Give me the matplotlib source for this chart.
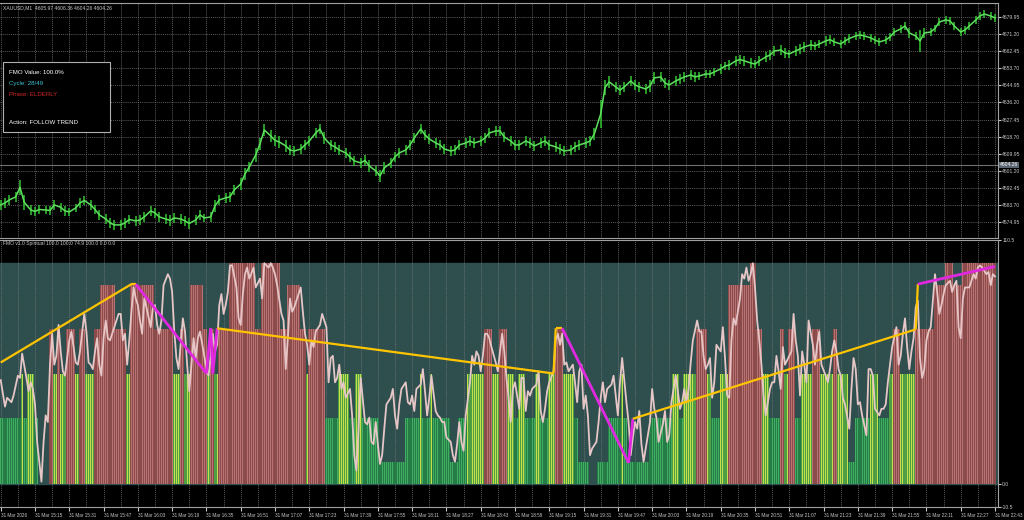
import matplotlib.pyplot as plt
import matplotlib.patches as patches
import numpy as np

# ---- price pane: XAUUSD M1, high/low read every 7/3 bars ----
price_bar = [7 * m + o for m in range(67) for o in (0, 2, 4)][:200]
price_hi = [4586.3, 4587.3, 4588.9, 4590.4, 4596.5, 4588.9, 4583.7, 4582.7, 4583.7, 4583.2,
            4583.2, 4586.3, 4584.8, 4583.2, 4582.2, 4584.2, 4587.3, 4588.3, 4586.3, 4583.7,
            4581.2, 4579.1, 4577.1, 4576.1, 4576.1, 4577.1, 4578.6, 4578.1, 4578.6, 4580.2,
            4583.2, 4582.2, 4580.2, 4579.1, 4578.6, 4579.6, 4579.1, 4578.1, 4577.1, 4578.6,
            4581.2, 4579.1, 4580.2, 4586.3, 4588.9, 4589.9, 4590.4, 4594.0, 4597.5, 4602.7,
            4605.7, 4612.9, 4618.0, 4625.2, 4622.1, 4619.6, 4619.0, 4617.0, 4614.4, 4613.9,
            4614.9, 4617.0, 4619.0, 4623.1, 4625.2, 4621.1, 4617.0, 4616.0, 4614.4, 4612.9,
            4610.9, 4608.8, 4607.8, 4609.3, 4606.8, 4603.7, 4601.6, 4605.7, 4607.8, 4610.9,
            4612.9, 4614.4, 4617.0, 4620.6, 4625.2, 4622.1, 4620.1, 4618.0, 4617.0, 4614.9,
            4613.9, 4614.4, 4617.0, 4618.0, 4619.0, 4618.0, 4619.0, 4620.6, 4623.1, 4624.2,
            4624.2, 4621.1, 4619.0, 4617.0, 4617.0, 4619.0, 4618.0, 4616.5, 4618.0, 4619.0,
            4617.0, 4616.0, 4614.9, 4613.9, 4614.4, 4616.0, 4617.0, 4618.0, 4619.0, 4623.1,
            4637.5, 4647.7, 4649.8, 4646.7, 4645.1, 4646.7, 4649.8, 4647.7, 4646.7, 4645.7,
            4647.7, 4651.8, 4651.8, 4648.7, 4647.7, 4649.8, 4650.8, 4651.8, 4652.8, 4651.8,
            4651.8, 4652.8, 4652.8, 4653.8, 4655.9, 4656.9, 4657.9, 4660.0, 4660.5, 4660.0,
            4659.0, 4657.9, 4660.0, 4662.0, 4663.1, 4665.1, 4665.6, 4664.1, 4663.1, 4665.1,
            4666.1, 4667.2, 4668.2, 4667.2, 4668.2, 4670.2, 4670.7, 4669.2, 4668.2, 4669.7,
            4671.3, 4672.3, 4672.8, 4672.3, 4671.3, 4670.2, 4669.2, 4670.2, 4671.8, 4674.3,
            4675.9, 4677.4, 4674.3, 4672.3, 4673.3, 4674.3, 4674.3, 4675.9, 4679.4, 4680.5,
            4680.0, 4677.4, 4674.3, 4675.3, 4677.4, 4680.5, 4682.5, 4683.5, 4682.5, 4681.5]
price_lo = [4581.2, 4582.2, 4583.7, 4585.3, 4588.9, 4581.2, 4578.6, 4578.1, 4579.1, 4579.1,
            4578.6, 4581.2, 4580.2, 4578.1, 4578.1, 4580.2, 4582.2, 4583.7, 4581.2, 4579.1,
            4576.1, 4574.0, 4572.0, 4570.9, 4570.9, 4572.0, 4574.0, 4573.0, 4573.5, 4575.0,
            4578.1, 4577.1, 4575.0, 4574.0, 4573.0, 4574.5, 4574.0, 4573.0, 4571.4, 4573.5,
            4576.1, 4575.0, 4575.0, 4580.2, 4583.7, 4584.8, 4585.3, 4588.9, 4591.4, 4596.5,
            4600.6, 4605.7, 4611.9, 4619.0, 4616.0, 4613.9, 4612.9, 4610.9, 4609.3, 4608.8,
            4609.8, 4611.9, 4613.9, 4618.0, 4620.1, 4614.9, 4611.9, 4610.9, 4609.3, 4607.8,
            4605.7, 4603.7, 4602.7, 4603.7, 4600.6, 4598.6, 4595.5, 4599.6, 4602.7, 4605.7,
            4607.8, 4609.3, 4611.9, 4615.5, 4620.1, 4617.0, 4614.9, 4612.9, 4611.9, 4609.8,
            4608.8, 4609.3, 4611.9, 4612.9, 4613.9, 4612.9, 4613.9, 4615.5, 4618.0, 4619.0,
            4619.0, 4616.0, 4613.9, 4611.9, 4611.9, 4613.9, 4612.9, 4611.4, 4612.9, 4613.9,
            4611.9, 4610.9, 4609.8, 4608.8, 4609.3, 4610.9, 4611.9, 4612.9, 4613.9, 4617.0,
            4623.1, 4640.0, 4643.6, 4641.6, 4640.0, 4641.6, 4644.6, 4642.6, 4641.6, 4640.5,
            4641.6, 4645.7, 4646.7, 4643.6, 4642.6, 4644.6, 4645.7, 4646.7, 4647.7, 4646.7,
            4647.7, 4648.7, 4648.7, 4649.8, 4650.8, 4652.8, 4652.8, 4654.9, 4655.9, 4654.9,
            4653.8, 4653.8, 4654.9, 4656.9, 4657.9, 4660.0, 4660.5, 4659.0, 4659.0, 4660.0,
            4661.0, 4662.0, 4663.1, 4663.1, 4664.1, 4665.1, 4666.1, 4665.1, 4664.1, 4665.6,
            4666.6, 4668.2, 4668.7, 4668.2, 4667.2, 4666.1, 4665.1, 4666.1, 4667.7, 4670.2,
            4671.8, 4673.3, 4669.2, 4668.2, 4662.0, 4669.2, 4670.2, 4672.3, 4675.3, 4676.4,
            4675.9, 4673.3, 4670.2, 4671.3, 4673.3, 4676.4, 4678.4, 4679.4, 4678.4, 4677.4]
price_ticks = [4574.95, 4583.70, 4592.45, 4601.20, 4609.95, 4618.70, 4627.45, 4636.20,
               4644.95, 4653.70, 4662.45, 4671.20, 4679.95]
last_price = 4604.26

# ---- FMO histogram, run-length: level per run, bars per run ----
hist_level = [30, 50, 30, 50, 30, 0, 70, 50, 70, 50, 70, 50, 70, 50, 70, 90, 70, 50, 90, 70,
              50, 70, 50, 90, 70, 50, 70, 50, 70, 100,
              100, 70, 100, 70, 90, 70, 50, 70, 30, 50, 30, 50, 30, 10, 30, 50, 30, 50, 30, 10,
              30, 50, 70, 50,
              70, 50, 30, 50, 30, 50, 30, 50, 70, 50, 30, 10, 0, 10, 30, 50, 30, 10, 30, 50,
              30, 50, 70, 50, 30, 50, 90,
              100, 70, 50, 30, 70, 50, 70, 30, 50, 70, 50, 70, 50, 10, 30, 50, 30, 50, 70, 50,
              70, 90, 100, 90, 100]
hist_run = [10, 1, 2, 3, 2, 5, 2, 2, 1, 3, 4, 2, 3, 4, 3, 7, 5, 2, 11, 9,
            3, 2, 3, 6, 2, 1, 2, 2, 5, 9,
            3, 3, 9, 3, 6, 3, 1, 8, 6, 5, 3, 3, 8, 12, 7, 1, 4, 1, 8, 4,
            4, 8, 4, 3,
            4, 3, 2, 3, 5, 2, 4, 3, 4, 5, 2, 5, 4, 5, 6, 1, 2, 10, 11, 3,
            2, 6, 5, 2, 4, 4, 10,
            3, 3, 3, 5, 2, 2, 3, 3, 5, 4, 6, 2, 5, 3, 7, 4, 5, 2, 3, 7,
            9, 5, 4, 4, 16]

# ---- FMO oscillator line (bar, value) ----
fmo_bar = [0, 2, 3, 5, 6, 8, 9, 10, 12, 13, 14, 15, 16, 17, 18, 19, 20, 21, 22, 23, 24, 25, 26,
           27, 28, 29, 30, 32, 33, 34, 35, 36, 37, 39, 40, 41, 42, 43, 44, 45, 46, 47, 48, 49,
           50, 51, 52, 54, 55, 56, 57, 58, 59, 60, 61, 62, 63, 64, 65, 66, 67, 68, 70, 71, 72,
           73, 74, 75, 76, 78, 79, 80, 81, 82, 83, 85, 86, 87, 88, 89, 90, 91, 92, 93, 95, 96,
           97, 98, 99, 100, 101, 102, 103, 104, 105, 106, 107, 108, 110, 111, 112, 113, 114, 115,
           116, 118, 119, 121, 122, 123, 124, 125, 126, 127, 128, 129, 131, 132, 133, 134, 135,
           136, 137, 138, 140, 141, 142, 143, 144, 145, 146, 147, 149, 150, 152, 153, 154, 155,
           156, 157, 158, 159, 160, 161, 163, 164, 165, 166, 167, 168, 170, 171, 172, 173, 174,
           175, 176, 177, 178, 179, 180, 182, 183, 184, 185, 186, 187, 189, 190, 191, 192, 193,
           194, 196, 197, 198, 199, 200, 201, 203, 204, 205, 206, 207, 208, 210, 211, 212, 213,
           214, 215, 216, 217, 219, 220, 221, 222, 223, 224, 225, 226, 227, 228, 229, 231, 232,
           233, 234, 235, 236, 237, 238, 239, 240, 242, 243, 244, 245, 246, 247, 248, 250, 251,
           252, 253, 254, 255, 256, 258, 259, 260, 261, 262, 263, 264, 265, 267, 268, 269, 270,
           271, 272, 273, 274, 275, 276, 278, 279, 280, 281, 282, 283, 285, 286, 287, 288, 289,
           290, 292, 293, 294, 295, 296, 297, 298, 299, 300, 302, 303, 304, 305, 306, 307, 309,
           310, 311, 312, 313, 315, 316, 317, 318, 319, 320, 321, 322, 323, 325, 326, 327, 328,
           329, 330, 331, 332, 333, 334, 336, 337, 338, 339, 340, 341, 342, 343, 345, 346, 347,
           348, 349, 350, 351, 352, 353, 354, 355, 356, 357, 359, 360, 361, 362, 363, 364, 365,
           366, 368, 369, 370, 371, 372, 373, 374, 375, 376, 377, 379, 380, 381, 382, 383, 385,
           386, 387, 388, 389, 390, 391, 392, 393, 394, 396, 397, 398, 399, 400, 401, 402, 404,
           405, 406, 407, 408, 410, 411, 412, 413, 414, 415, 416, 418, 419, 420, 421, 422, 423,
           424, 425, 426, 427, 428, 429, 430, 431, 432, 433, 434, 436, 437, 438, 439, 440, 441,
           443, 444, 445, 446, 447, 448, 449, 450, 452, 453, 454, 455, 456, 457, 458, 460, 461,
           462, 463, 464]
fmo_val = [47, 35, 39, 37, 40, 49, 48, 59, 48, 42, 46, 43, 36, 19, 10, 1, 19, 31, 28, 54, 68, 54,
           58, 72, 60, 51, 49, 65, 69, 62, 55, 54, 60, 77, 69, 55, 54, 52, 60, 66, 54, 49, 66, 74,
           66, 65, 68, 74, 77, 77, 65, 68, 54, 65, 78, 89, 84, 81, 74, 68, 84, 80, 71, 80, 81, 72,
           68, 74, 90, 95, 93, 87, 69, 57, 52, 75, 69, 54, 42, 54, 66, 57, 66, 69, 58, 52, 49, 58,
           68, 60, 63, 81, 86, 77, 81, 87, 99, 99, 89, 75, 72, 86, 95, 98,
           93, 98, 89, 93, 84, 100, 99, 98, 100, 98, 95, 90, 77, 74, 52, 66, 84, 78, 80, 83, 89,
           78, 68, 63, 54, 65, 62, 69, 72, 77, 71, 46, 57, 58, 46, 48, 54, 43, 46, 39, 43, 31, 13,
           6, 25, 48, 28, 27, 30, 19, 18, 28, 18, 9, 13, 25, 36, 39, 43, 31, 25, 36, 43, 46, 37,
           36, 40, 33, 43, 45, 52, 42, 31, 39, 49, 33, 31, 30, 28, 28, 21, 19, 13, 10, 18, 28, 19,
           15, 31, 46, 58, 54, 60, 58, 51, 58, 68, 68, 66, 62, 55, 51,
           60, 68, 60, 48, 39, 28, 43, 46, 34, 48, 48, 33, 42, 40, 43, 45, 51, 33, 28, 34, 42, 46,
           51, 65, 68, 63, 68, 54, 55, 51, 54, 46, 37, 51, 54, 34, 40, 31, 13, 16, 19, 28, 39, 46,
           37, 43, 45, 49, 40, 31, 46, 57, 37, 28, 13, 21, 28, 25, 33, 18, 10, 22, 28, 43, 34, 30,
           19, 27, 33, 19, 22, 37, 49, 42, 34, 37, 43, 37, 43, 55, 65, 74, 69, 69, 58, 52, 54, 57,
           39, 46, 63, 60, 71, 57, 40, 39, 65, 75, 72, 84, 95, 93, 98, 92,
           95, 100, 89, 74, 65, 54, 40, 31, 43, 46, 46, 58, 51, 43, 62, 54, 58, 60, 77, 65, 58, 40,
           60, 54, 46, 74, 63, 54, 63, 69, 54, 49, 46, 52, 60, 65, 60, 52, 49, 39, 36, 25, 43, 57,
           52, 36, 37, 31, 22, 52, 52, 49, 34, 31, 34, 34, 36, 46, 54, 62, 71, 54, 58, 68, 75, 62,
           52, 60, 66, 80, 83, 57, 48, 52, 65, 69, 71, 95, 87, 77, 81, 86, 90, 92, 87, 90, 92, 71,
           66, 84, 89, 89, 92, 95, 93, 98, 99, 98, 95, 96, 90, 95, 94]

# ---- trend overlay vertices, kind of each segment ----
trend_bar = [0, 61, 63, 96, 98, 99, 101, 258, 259, 262, 293, 295, 427, 428, 464]
trend_val = [55, 90.5, 90.5, 50, 70.5, 50, 70.5, 50, 70.5, 70.5, 9.5, 29.5, 70, 90.5, 98.5]
trend_kind = ['Y', 'Y', 'M', 'M', 'M', 'M', 'Y', 'Y', 'Y', 'M', 'M', 'Y', 'Y', 'M']

time_labels = ['31 Mar 2026', '31 Mar 15:15', '31 Mar 15:31', '31 Mar 15:47', '31 Mar 16:03',
               '31 Mar 16:19', '31 Mar 16:35', '31 Mar 16:51', '31 Mar 17:07', '31 Mar 17:23',
               '31 Mar 17:39', '31 Mar 17:55', '31 Mar 18:11', '31 Mar 18:27', '31 Mar 18:43',
               '31 Mar 18:59', '31 Mar 19:15', '31 Mar 19:31', '31 Mar 19:47', '31 Mar 20:03',
               '31 Mar 20:19', '31 Mar 20:35', '31 Mar 20:51', '31 Mar 21:07', '31 Mar 21:23',
               '31 Mar 21:39', '31 Mar 21:55', '31 Mar 22:11', '31 Mar 22:27', '31 Mar 22:43']

plt.rcParams['font.family'] = ['Liberation Sans', 'DejaVu Sans']
GRID = '#7a7a7a'
FG = '#c8c8c8'
XLIM = (-0.33, 465.4)

fig = plt.figure(figsize=(10.24, 5.2), dpi=100, facecolor='black')
ax1 = fig.add_axes([0, 1 - 238 / 520, 998 / 1024, 235 / 520], facecolor='black')
ax2 = fig.add_axes([0, 1 - 507 / 520, 998 / 1024, 267 / 520], facecolor='black')

# price pane: thin bars plus a bright path through their middles
mid = (np.array(price_hi) + np.array(price_lo)) / 2
ax1.vlines(price_bar, price_lo, price_hi, color='#2fb52f', lw=1.2, zorder=3)
ax1.plot(price_bar, mid, color='#5ee05e', lw=1.1, zorder=4)
ax1.axhline(last_price, color='#707070', lw=0.8)
ax1.set_xlim(*XLIM)
ax1.set_ylim(4566.8, 4687.1)
ax1.set_yticks(price_ticks, [f'{p:.2f}' for p in price_ticks])
ax1.yaxis.tick_right()
ax1.set_xticks(range(0, 465, 16))
ax1.set_xticks(range(8, 465, 16), minor=True)
ax1.tick_params(axis='x', which='both', length=0, labelbottom=False)
ax1.tick_params(axis='y', labelsize=3.6, colors=FG, length=2, pad=1)
ax1.grid(True, which='both', color=GRID, ls=(0, (1.5, 1.5)), lw=0.5)
ax1.text(1.002, last_price, f'{last_price:.2f}', transform=ax1.get_yaxis_transform(),
         fontsize=3.6, color='white', va='center', ha='left',
         bbox=dict(boxstyle='square,pad=0.15', fc='#5a6470', ec='none'))

# indicator pane: teal base, striped histogram, oscillator, trend overlay
ax2.axhspan(0, 100, color='#2f4f4f', zorder=0)
levels = np.repeat(hist_level, hist_run)
bars = np.arange(len(levels))
dark = np.where(levels >= 70, '#8c4b4b', np.where(levels >= 50, '#4f9e44', '#267c46'))
light = np.where(levels >= 70, '#b87272', np.where(levels >= 50, '#c4e04c', '#40ad62'))
ax2.bar(bars, levels, width=1.0, color=dark, zorder=2)
ax2.bar(bars, levels, width=0.45, color=light, zorder=2)
ax2.plot(fmo_bar, fmo_val, color='#e6c6c6', lw=1.3, zorder=4)
for i, kind in enumerate(trend_kind):
    ax2.plot(trend_bar[i:i + 2], trend_val[i:i + 2],
             color='#ffc400' if kind == 'Y' else '#e028e0', lw=1.6 if kind == 'Y' else 2.0,
             zorder=5, solid_capstyle='butt')
ax2.set_xlim(*XLIM)
ax2.set_ylim(-10.5, 110.5)
ax2.set_yticks([110.5, 0, -10.5], ['110.5', '0.0', '-10.5'])
ax2.yaxis.tick_right()
ax2.set_xticks(range(0, 465, 16), time_labels)
ax2.set_xticks(range(8, 465, 16), minor=True)
for lbl in ax2.get_xticklabels():
    lbl.set_horizontalalignment('left')
ax2.tick_params(axis='x', which='major', labelsize=3.3, colors=FG, length=3, pad=1)
ax2.tick_params(axis='x', which='minor', length=0)
ax2.tick_params(axis='y', labelsize=3.6, colors=FG, length=2, pad=1)
ax2.grid(True, axis='x', which='both', color=GRID, ls=(0, (1.5, 1.5)), lw=0.5, zorder=1)

for ax in (ax1, ax2):
    for s in ax.spines.values():
        s.set_color('#a0a0a0')
        s.set_linewidth(0.8)
    ax.spines['left'].set_visible(False)

fig.text(3 / 1024, 1 - 8 / 520, 'XAUUSD,M1  4605.97 4606.36 4604.26 4604.26',
         fontsize=3.6, color=FG, va='center')
fig.text(3 / 1024, 1 - 244 / 520, 'FMO v1.0 Spiritual 100.0 100.0 74.9 100.0 0.0 0.0',
         fontsize=3.6, color=FG, va='center')

# info panel
fig.patches.append(patches.Rectangle((3 / 1024, 1 - 132 / 520), 107 / 1024, 70 / 520,
                                     transform=fig.transFigure, fc='black', ec='#b0b0b0',
                                     lw=0.8, zorder=10))
info = [('FMO Value: 100.0%', 72, 'white'), ('Cycle: 28/49', 83, '#3ec8d8'),
        ('Phase: ELDERLY', 95, '#d02828'), ('Action: FOLLOW TREND', 122, 'white')]
for txt, y, c in info:
    fig.text(9 / 1024, 1 - y / 520, txt, fontsize=4.4, color=c, va='center', zorder=11)

fig.savefig('out.png', dpi=100, facecolor='black')
